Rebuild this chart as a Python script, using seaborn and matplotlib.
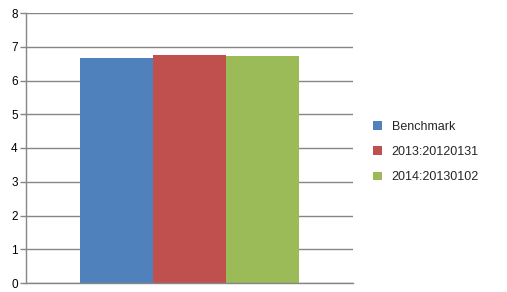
import matplotlib
matplotlib.use("Agg")
import matplotlib.pyplot as plt
import seaborn as sns
import pandas as pd

series = ["Benchmark", "2013:20120131", "2014:20130102"]
values = [6.67, 6.77, 6.74]
colors = ["#4F81BD", "#C0504D", "#9BBB59"]
yticks = [0, 1, 2, 3, 4, 5, 6, 7, 8]

df = pd.DataFrame({"group": ["g"] * len(series), "series": series, "value": values})

sns.set_theme(style="white")
plt.rcParams["font.family"] = ["Liberation Sans", "DejaVu Sans"]

fig = plt.figure(figsize=(5.07, 2.92), dpi=100)
ax = fig.add_axes([26 / 507, 1 - 283 / 292, 327 / 507, 270 / 292])

sns.barplot(data=df, x="group", y="value", hue="series", palette=colors,
            width=0.667, saturation=1, ax=ax, legend=True)
for p in ax.patches:
    p.set_edgecolor("none")

ax.set_xlim(-0.5, 0.5)
ax.set_ylim(0, 8)
ax.set_yticks(yticks)
ax.set_yticklabels([str(t) for t in yticks], fontsize=8.5, color="black")
ax.set_xticks([])
ax.set_xlabel("")
ax.set_ylabel("")
ax.yaxis.grid(True, color="#868686", linewidth=1)
ax.set_axisbelow(True)
for s in ["top", "right"]:
    ax.spines[s].set_visible(False)
for s in ["left", "bottom"]:
    ax.spines[s].set_color("#868686")
    ax.spines[s].set_linewidth(1)
ax.tick_params(axis="y", which="both", left=True, length=4, width=1,
               color="#868686", pad=2)

handles, labels = ax.get_legend_handles_labels()
ax.get_legend().remove()
fig.legend(handles, labels, loc="upper left", bbox_to_anchor=(368 / 507, 1 - 116 / 292),
           frameon=False, fontsize=9, handlelength=0.7, handleheight=0.7,
           handletextpad=0.8, labelspacing=1.05, borderaxespad=0)

fig.savefig("out.png", dpi=100)
